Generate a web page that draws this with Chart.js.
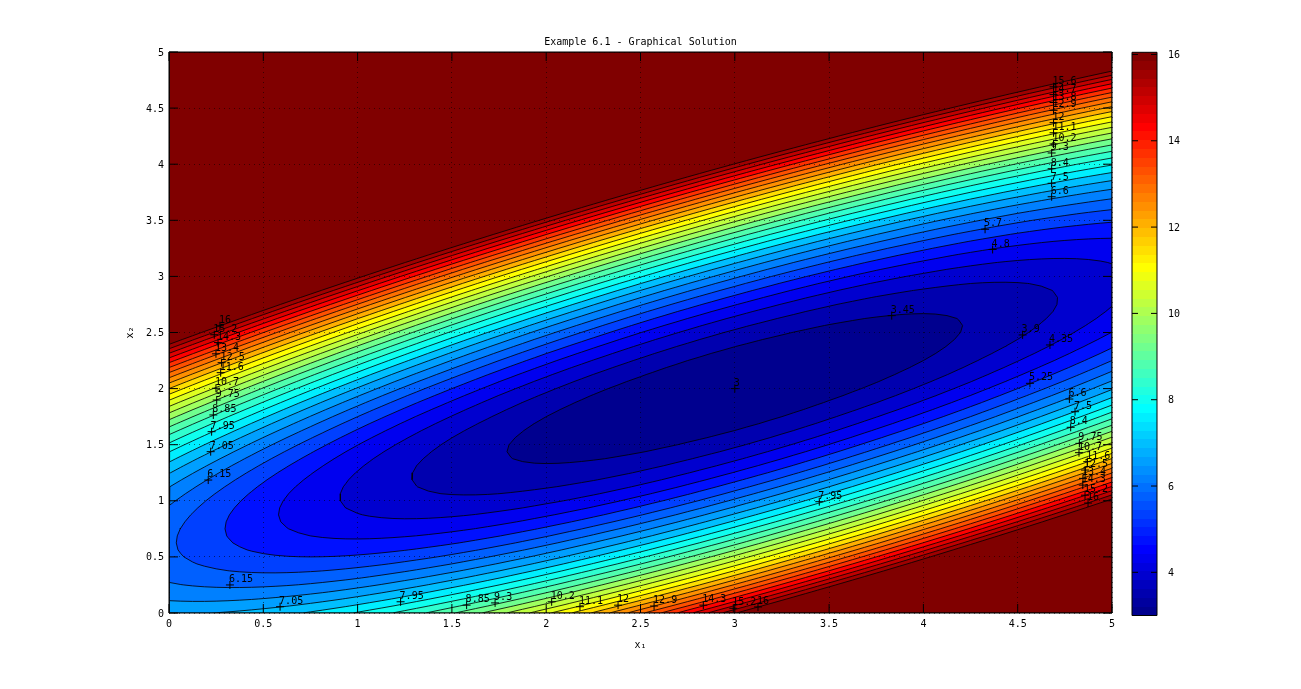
<!DOCTYPE html>
<html>
<head>
<meta charset="utf-8">
<title>Example 6.1 - Graphical Solution</title>
<script src="https://cdn.jsdelivr.net/npm/chart.js@4/dist/chart.umd.min.js"></script>
<style>
    html, body { margin: 0; padding: 0; background: #fff; overflow: hidden; }
    #plot { position: absolute; left: 0; top: 0; }
    #bar { position: absolute; left: 1100px; top: 0; }
</style>
</head>
<body>
<canvas id="plot" width="1301" height="689"></canvas>
<canvas id="bar" width="120" height="689"></canvas>
<script>
// Grid the surface was sampled on
const x1Values = [0, 0.25, 0.5, 0.75, 1, 1.25, 1.5, 1.75, 2, 2.25, 2.5, 2.75, 3, 3.25, 3.5, 3.75, 4, 4.25, 4.5, 4.75, 5];
const x2Values = [0, 0.25, 0.5, 0.75, 1, 1.25, 1.5, 1.75, 2, 2.25, 2.5, 2.75, 3, 3.25, 3.5, 3.75, 4, 4.25, 4.5, 4.75, 5];

// One row per x2 value, bottom to top
const zGrid = [
    [7, 7.06, 7.25, 7.56, 8, 8.56, 9.25, 10.06, 11, 12.06, 13.25, 14.56, 16, 17.56, 19.25, 21.06, 23, 25.06, 27.25, 29.56, 32],
    [6.2, 6.08, 6.08, 6.2, 6.45, 6.83, 7.33, 7.95, 8.7, 9.58, 10.58, 11.7, 12.95, 14.33, 15.83, 17.45, 19.2, 21.08, 23.08, 25.2, 27.45],
    [5.81, 5.5, 5.31, 5.25, 5.31, 5.5, 5.81, 6.25, 6.81, 7.5, 8.31, 9.25, 10.31, 11.5, 12.81, 14.25, 15.81, 17.5, 19.31, 21.25, 23.31],
    [5.83, 5.33, 4.95, 4.7, 4.58, 4.58, 4.7, 4.95, 5.33, 5.83, 6.45, 7.2, 8.08, 9.08, 10.2, 11.45, 12.83, 14.33, 15.95, 17.7, 19.58],
    [6.25, 5.56, 5, 4.56, 4.25, 4.06, 4, 4.06, 4.25, 4.56, 5, 5.56, 6.25, 7.06, 8, 9.06, 10.25, 11.56, 13, 14.56, 16.25],
    [7.08, 6.2, 5.45, 4.83, 4.33, 3.95, 3.7, 3.58, 3.58, 3.7, 3.95, 4.33, 4.83, 5.45, 6.2, 7.08, 8.08, 9.2, 10.45, 11.83, 13.33],
    [8.31, 7.25, 6.31, 5.5, 4.81, 4.25, 3.81, 3.5, 3.31, 3.25, 3.31, 3.5, 3.81, 4.25, 4.81, 5.5, 6.31, 7.25, 8.31, 9.5, 10.81],
    [9.95, 8.7, 7.58, 6.58, 5.7, 4.95, 4.33, 3.83, 3.45, 3.2, 3.08, 3.08, 3.2, 3.45, 3.83, 4.33, 4.95, 5.7, 6.58, 7.58, 8.7],
    [12, 10.56, 9.25, 8.06, 7, 6.06, 5.25, 4.56, 4, 3.56, 3.25, 3.06, 3, 3.06, 3.25, 3.56, 4, 4.56, 5.25, 6.06, 7],
    [14.45, 12.83, 11.33, 9.95, 8.7, 7.58, 6.58, 5.7, 4.95, 4.33, 3.83, 3.45, 3.2, 3.08, 3.08, 3.2, 3.45, 3.83, 4.33, 4.95, 5.7],
    [17.31, 15.5, 13.81, 12.25, 10.81, 9.5, 8.31, 7.25, 6.31, 5.5, 4.81, 4.25, 3.81, 3.5, 3.31, 3.25, 3.31, 3.5, 3.81, 4.25, 4.81],
    [20.58, 18.58, 16.7, 14.95, 13.33, 11.83, 10.45, 9.2, 8.08, 7.08, 6.2, 5.45, 4.83, 4.33, 3.95, 3.7, 3.58, 3.58, 3.7, 3.95, 4.33],
    [24.25, 22.06, 20, 18.06, 16.25, 14.56, 13, 11.56, 10.25, 9.06, 8, 7.06, 6.25, 5.56, 5, 4.56, 4.25, 4.06, 4, 4.06, 4.25],
    [28.33, 25.95, 23.7, 21.58, 19.58, 17.7, 15.95, 14.33, 12.83, 11.45, 10.2, 9.08, 8.08, 7.2, 6.45, 5.83, 5.33, 4.95, 4.7, 4.58, 4.58],
    [32.81, 30.25, 27.81, 25.5, 23.31, 21.25, 19.31, 17.5, 15.81, 14.25, 12.81, 11.5, 10.31, 9.25, 8.31, 7.5, 6.81, 6.25, 5.81, 5.5, 5.31],
    [37.7, 34.95, 32.33, 29.83, 27.45, 25.2, 23.08, 21.08, 19.2, 17.45, 15.83, 14.33, 12.95, 11.7, 10.58, 9.58, 8.7, 7.95, 7.33, 6.83, 6.45],
    [43, 40.06, 37.25, 34.56, 32, 29.56, 27.25, 25.06, 23, 21.06, 19.25, 17.56, 16, 14.56, 13.25, 12.06, 11, 10.06, 9.25, 8.56, 8],
    [48.7, 45.58, 42.58, 39.7, 36.95, 34.33, 31.83, 29.45, 27.2, 25.08, 23.08, 21.2, 19.45, 17.83, 16.33, 14.95, 13.7, 12.58, 11.58, 10.7, 9.95],
    [54.81, 51.5, 48.31, 45.25, 42.31, 39.5, 36.81, 34.25, 31.81, 29.5, 27.31, 25.25, 23.31, 21.5, 19.81, 18.25, 16.81, 15.5, 14.31, 13.25, 12.31],
    [61.33, 57.83, 54.45, 51.2, 48.08, 45.08, 42.2, 39.45, 36.83, 34.33, 31.95, 29.7, 27.58, 25.58, 23.7, 21.95, 20.33, 18.83, 17.45, 16.2, 15.08],
    [68.25, 64.56, 61, 57.56, 54.25, 51.06, 48, 45.06, 42.25, 39.56, 37, 34.56, 32.25, 30.06, 28, 26.06, 24.25, 22.56, 21, 19.56, 18.25]
];

// Contour levels
const levels = [3, 3.45, 3.9, 4.35, 4.8, 5.25, 5.7, 6.15, 6.6, 7.05, 7.5, 7.95, 8.4, 8.85, 9.3, 9.75, 10.2, 10.65, 11.1, 11.55, 12, 12.45, 12.9, 13.35, 13.8, 14.25, 14.7, 15.15, 15.6, 16.05];

// clabel text and the + position of each one
const labelText = [
    '6.15', '7.05', '7.95', '8.85', '9.75', '10.7', '11.6', '12.5', '13.4', '14.3', '15.2', '16',
    '6.6', '7.5', '8.4', '9.3', '10.2', '11.1', '12', '12.9', '13.8', '14.7', '15.6',
    '5.7', '4.8', '3.45', '3.9', '4.35', '5.25', '6.6', '7.5', '8.4', '7.95', '3',
    '9.75', '10.7', '11.6', '12.5', '13.4', '14.3', '15.2', '16',
    '6.15', '7.05', '7.95', '8.85', '9.3', '10.2', '11.1', '12', '12.9', '14.3', '15.2', '16'
];
const labelX = [
    0.208, 0.221, 0.226, 0.235, 0.253, 0.249, 0.274, 0.279, 0.249, 0.26, 0.24, 0.27,
    4.68, 4.68, 4.68, 4.68, 4.69, 4.69, 4.69, 4.69, 4.69, 4.69, 4.69,
    4.327, 4.367, 3.832, 4.526, 4.671, 4.565, 4.774, 4.804, 4.781, 3.448, 3,
    4.827, 4.825, 4.869, 4.857, 4.846, 4.845, 4.857, 4.873,
    0.323, 0.589, 1.228, 1.578, 1.729, 2.029, 2.179, 2.381, 2.572, 2.833, 2.992, 3.123
];
const labelY = [
    1.185, 1.438, 1.616, 1.765, 1.898, 2.003, 2.142, 2.231, 2.31, 2.41, 2.48, 2.56,
    3.71, 3.83, 3.96, 4.1, 4.18, 4.28, 4.37, 4.48, 4.55, 4.62, 4.69,
    3.42, 3.24, 2.65, 2.478, 2.389, 2.047, 1.907, 1.794, 1.655, 0.992, 2,
    1.512, 1.429, 1.349, 1.274, 1.2, 1.14, 1.05, 0.98,
    0.25, 0.056, 0.1, 0.07, 0.09, 0.1, 0.056, 0.07, 0.062, 0.07, 0.042, 0.054
];

// Axis ticks
const xTickValues = [0, 0.5, 1, 1.5, 2, 2.5, 3, 3.5, 4, 4.5, 5];
const xTickLabels = ['0', '0.5', '1', '1.5', '2', '2.5', '3', '3.5', '4', '4.5', '5'];
const yTickValues = [0, 0.5, 1, 1.5, 2, 2.5, 3, 3.5, 4, 4.5, 5];
const yTickLabels = ['0', '0.5', '1', '1.5', '2', '2.5', '3', '3.5', '4', '4.5', '5'];
const barTickValues = [4, 6, 8, 10, 12, 14, 16];
const barRange = [3, 16.05];

const MONO = "'DejaVu Sans Mono', monospace";
const REFINE = 4;

// Matlab jet, 64 entries
function jetColor(idx) {
    const v = (idx + 1) / 64;
    const c = (a) => Math.round(Math.max(0, Math.min(1, a)) * 255);
    const r = c(Math.min(4 * v - 1.5, -4 * v + 4.5));
    const g = c(Math.min(4 * v - 0.5, -4 * v + 3.5));
    const b = c(Math.min(4 * v + 0.5, -4 * v + 2.5));
    return `rgb(${r},${g},${b})`;
}

function levelColor(level) {
    const idx = Math.floor((level - barRange[0]) / (barRange[1] - barRange[0]) * 64);
    return jetColor(Math.min(63, idx));
}

// Catmull-Rom between samples, so the contours round off like the original
function refineLine(line) {
    const n = line.length;
    const at = (k) => {
        if (k < 0) return 3 * line[0] - 3 * line[1] + line[2];
        if (k >= n) return 3 * line[n - 1] - 3 * line[n - 2] + line[n - 3];
        return line[k];
    };
    const out = [];
    for (let k = 0; k < n - 1; k++) {
        const p0 = at(k - 1), p1 = at(k), p2 = at(k + 1), p3 = at(k + 2);
        for (let s = 0; s < REFINE; s++) {
            const t = s / REFINE;
            out.push(p1 + 0.5 * t * (p2 - p0 + t * (2 * p0 - 5 * p1 + 4 * p2 - p3 + t * (3 * p1 - p0 - 3 * p2 + p3))));
        }
    }
    out.push(line[n - 1]);
    return out;
}

const fineX = refineLine(x1Values);
const fineY = refineLine(x2Values);
const fineRows = zGrid.map(refineLine);
const fineCols = fineX.map((_, i) => refineLine(fineRows.map(row => row[i])));

// Region z <= level is convex here, so edge crossings sorted by angle give its outline
function levelPolygon(level) {
    const pts = [];
    const nx = fineX.length, ny = fineY.length;
    const crosses = (a, b) => (a <= level && b > level) || (a > level && b <= level);
    for (let j = 0; j < ny; j++) {
        for (let i = 0; i < nx; i++) {
            const v = fineCols[i][j];
            if (v <= level && (i === 0 || i === nx - 1) && (j === 0 || j === ny - 1)) {
                pts.push({ x: fineX[i], y: fineY[j] });
            }
            if (i < nx - 1 && crosses(v, fineCols[i + 1][j])) {
                const t = (level - v) / (fineCols[i + 1][j] - v);
                pts.push({ x: fineX[i] + t * (fineX[i + 1] - fineX[i]), y: fineY[j] });
            }
            if (j < ny - 1 && crosses(v, fineCols[i][j + 1])) {
                const t = (level - v) / (fineCols[i][j + 1] - v);
                pts.push({ x: fineX[i], y: fineY[j] + t * (fineY[j + 1] - fineY[j]) });
            }
        }
    }
    const cx = pts.reduce((s, p) => s + p.x, 0) / pts.length;
    const cy = pts.reduce((s, p) => s + p.y, 0) / pts.length;
    pts.sort((a, b) => Math.atan2(a.y - cy, a.x - cx) - Math.atan2(b.y - cy, b.x - cx));
    pts.push(pts[0]);
    return pts;
}

function buildDatasets() {
    const sets = [{
        data: labelX.map((x, i) => ({ x: x, y: labelY[i] })),
        showLine: false,
        pointStyle: 'cross',
        pointRadius: 4,
        pointBorderColor: '#000',
        pointBorderWidth: 1
    }];
    // First dataset paints on top, so go from the inside out
    for (let k = 1; k < levels.length; k++) {
        sets.push(contourSet(levelPolygon(levels[k]), levelColor(levels[k - 1])));
    }
    sets.push(contourSet(levelPolygon(Infinity), levelColor(levels[levels.length - 1])));
    return sets;
}

function contourSet(points, color) {
    return {
        data: points,
        showLine: true,
        fill: 'shape',
        tension: 0,
        backgroundColor: color,
        borderColor: '#000',
        borderWidth: 0.8,
        pointRadius: 0
    };
}

// Matlab style inward ticks on all four sides plus the box
function drawBox(ctx, area, xs, ys, len) {
    ctx.save();
    ctx.strokeStyle = '#000';
    ctx.lineWidth = 1;
    ctx.beginPath();
    xs.forEach(px => {
        ctx.moveTo(px, area.top);
        ctx.lineTo(px, area.top + len);
        ctx.moveTo(px, area.bottom);
        ctx.lineTo(px, area.bottom - len);
    });
    ys.forEach(py => {
        ctx.moveTo(area.left, py);
        ctx.lineTo(area.left + len, py);
        ctx.moveTo(area.right, py);
        ctx.lineTo(area.right - len, py);
    });
    ctx.rect(area.left, area.top, area.right - area.left, area.bottom - area.top);
    ctx.stroke();
    ctx.restore();
}

const plotDecor = {
    id: 'plotDecor',
    afterDraw(chart) {
        const { ctx, chartArea, scales } = chart;
        ctx.save();
        ctx.fillStyle = '#000';
        ctx.font = '10px ' + MONO;
        ctx.textBaseline = 'middle';
        labelText.forEach((txt, i) => {
            ctx.fillText(txt, scales.x.getPixelForValue(labelX[i]) - 1, scales.y.getPixelForValue(labelY[i]) - 5.5);
        });
        ctx.restore();
        drawBox(ctx, chartArea,
            xTickValues.map(v => scales.x.getPixelForValue(v)),
            yTickValues.map(v => scales.y.getPixelForValue(v)), 9);
    }
};

const gridStyle = { color: 'rgba(0,0,0,0.55)', lineWidth: 1, z: 1, drawTicks: false };
const borderStyle = { dash: [1, 4], display: false };

new Chart(document.getElementById('plot').getContext('2d'), {
    type: 'scatter',
    data: { datasets: buildDatasets() },
    plugins: [plotDecor],
    options: {
        responsive: false,
        animation: false,
        events: [],
        layout: { padding: { left: 120, right: 189, top: 0, bottom: 0 } },
        plugins: {
            legend: { display: false },
            tooltip: { enabled: false },
            title: {
                display: true,
                fullSize: false,
                text: 'Example 6.1 - Graphical Solution',
                color: '#000',
                font: { family: MONO, size: 10, weight: 'normal' },
                padding: { top: 36, bottom: 4 }
            }
        },
        scales: {
            x: {
                type: 'linear',
                min: 0,
                max: 5,
                afterBuildTicks: (s) => { s.ticks = xTickValues.map(v => ({ value: v })); },
                afterFit: (s) => { s.height = 76; },
                grid: gridStyle,
                border: borderStyle,
                ticks: {
                    color: '#000',
                    font: { family: MONO, size: 10 },
                    padding: 5,
                    maxRotation: 0,
                    autoSkip: false,
                    callback: (v, i) => xTickLabels[i]
                },
                title: {
                    display: true,
                    text: 'x₁',
                    color: '#000',
                    font: { family: MONO, size: 10 },
                    padding: { top: 0, bottom: 38 }
                }
            },
            y: {
                type: 'linear',
                min: 0,
                max: 5,
                afterBuildTicks: (s) => { s.ticks = yTickValues.map(v => ({ value: v })); },
                afterFit: (s) => { s.width = 49; },
                grid: gridStyle,
                border: borderStyle,
                ticks: {
                    color: '#000',
                    font: { family: MONO, size: 10 },
                    padding: 5,
                    labelOffset: 1,
                    autoSkip: false,
                    callback: (v, i) => yTickLabels[i]
                },
                title: {
                    display: true,
                    text: 'x₂',
                    color: '#000',
                    font: { family: MONO, size: 10 },
                    padding: { top: 4, bottom: 0 }
                }
            }
        }
    }
});

// Colorbar: one floating bar, painted with the 64 jet steps
function barGradient(context) {
    const chart = context.chart;
    if (!chart.chartArea) return '#000';
    const g = chart.ctx.createLinearGradient(0, chart.chartArea.bottom, 0, chart.chartArea.top);
    for (let i = 0; i < 64; i++) {
        g.addColorStop(i / 64, jetColor(i));
        g.addColorStop((i + 1) / 64, jetColor(i));
    }
    return g;
}

const barDecor = {
    id: 'barDecor',
    afterDraw(chart) {
        drawBox(chart.ctx, chart.chartArea, [], barTickValues.map(v => chart.scales.y.getPixelForValue(v)), 6);
    }
};

new Chart(document.getElementById('bar').getContext('2d'), {
    type: 'bar',
    data: {
        labels: ['z'],
        datasets: [{
            data: [barRange],
            backgroundColor: barGradient,
            barPercentage: 1,
            categoryPercentage: 1,
            borderSkipped: false
        }]
    },
    plugins: [barDecor],
    options: {
        responsive: false,
        animation: false,
        events: [],
        layout: { padding: { left: 32, right: 0, top: 52.3, bottom: 73.5 } },
        plugins: { legend: { display: false }, tooltip: { enabled: false } },
        scales: {
            x: { display: false },
            y: {
                position: 'right',
                min: barRange[0],
                max: barRange[1],
                afterBuildTicks: (s) => { s.ticks = barTickValues.map(v => ({ value: v })); },
                afterFit: (s) => { s.width = 63; },
                grid: { display: false },
                border: { display: false },
                ticks: {
                    color: '#000',
                    font: { family: MONO, size: 10 },
                    padding: 3,
                    labelOffset: 1,
                    autoSkip: false
                }
            }
        }
    }
});
</script>
</body>
</html>
